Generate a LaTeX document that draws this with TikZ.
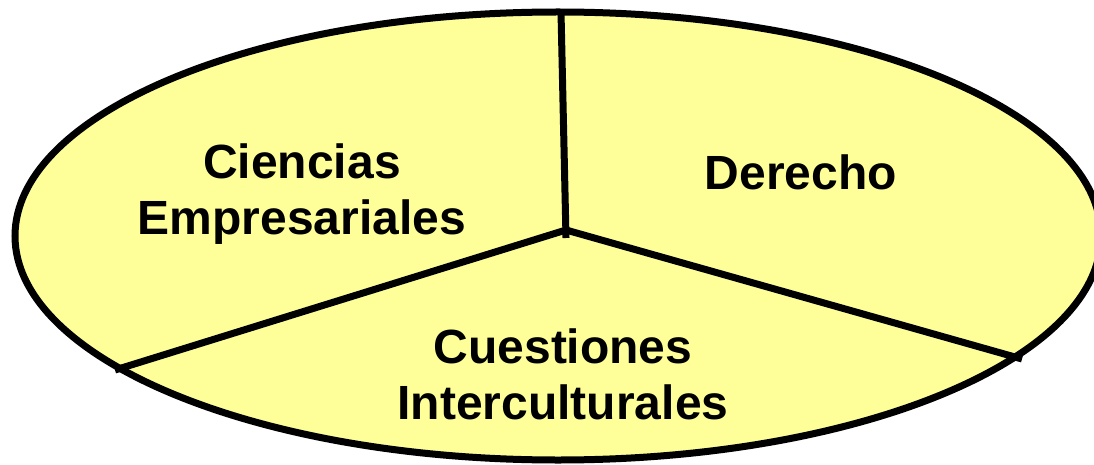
\documentclass[tikz,border=0pt]{standalone}
\usepackage{fontspec}
\setmainfont{Liberation Sans}
\definecolor{pieyellow}{HTML}{FFFF99}
\begin{document}
\begin{tikzpicture}[x=1pt,y=-1pt,
  lbl/.style={font=\bfseries\fontsize{48}{56}\selectfont, align=center, inner sep=0pt},
  edge/.style={line width=7pt, line cap=butt, line join=miter}]
\useasboundingbox (0,0) rectangle (1094,465);
\fill[pieyellow] (558,236) ellipse [x radius=543, y radius=224];
\coordinate (c) at (566,230);
\coordinate (ctop) at (561,12);
\coordinate (cbot) at (566,238);
\coordinate (pl) at (115,370);
\coordinate (pr) at (1022,359);
\draw[edge] (ctop) -- (cbot);
\draw[edge] (c) -- (pl);
\draw[edge] (c) -- (pr);
\draw[line width=7pt] (558,236) ellipse [x radius=543, y radius=224];
\node[lbl] (ce) at (302,194) {Ciencias\\Empresariales};
\node[lbl] (de) at (801,172) {Derecho};
\node[lbl] (cu) at (563,374) {Cuestiones\\Interculturales};
\end{tikzpicture}
\end{document}
